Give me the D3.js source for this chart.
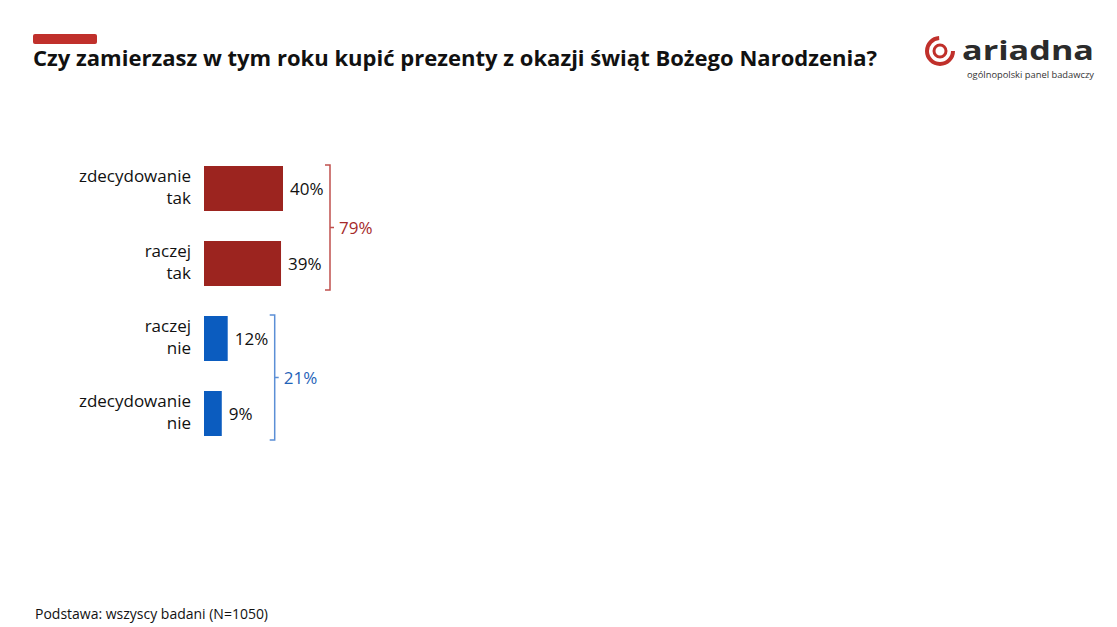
<!DOCTYPE html>
<html><head><meta charset="utf-8">
<script src="https://cdn.jsdelivr.net/npm/d3@7"></script>
<style>body{margin:0;background:#fff}svg{display:block}</style>
</head><body>
<script>
const categories = [["zdecydowanie","tak"],["raczej","tak"],["raczej","nie"],["zdecydowanie","nie"]];
const values = [40, 39, 12, 9];
const groups = ["tak","tak","nie","nie"];
const groupTotals = [{group:"tak", label:"79%", from:0, to:1}, {group:"nie", label:"21%", from:2, to:3}];
const title = "Czy zamierzasz w tym roku kupić prezenty z okazji świąt Bożego Narodzenia?";
const footnote = "Podstawa: wszyscy badani (N=1050)";

const W = 1117, H = 627;
const svg = d3.select("body").append("svg").attr("width", W).attr("height", H);
const font = "'Open Sans', 'DejaVu Sans', sans-serif";

const barColor = {tak:"#9c241f", nie:"#0b5cbf"};
const bracketColor = {tak:"#c0504d", nie:"#5b8fd6"};
const totalColor = {tak:"#a52a2a", nie:"#1f63b8"};

// header
svg.append("rect").attr("x",33).attr("y",34).attr("width",64).attr("height",10).attr("rx",2).attr("fill","#c0302b");
svg.append("text").attr("x",33).attr("y",66).attr("font-family","'Open Sans', sans-serif").attr("font-weight",700)
  .attr("font-size",20.5).attr("fill","#111").attr("textLength",844).attr("lengthAdjust","spacingAndGlyphs").text(title);

// logo
const logo = svg.append("g");
logo.append("circle").attr("cx",940).attr("cy",51).attr("r",13).attr("fill","none").attr("stroke","#c0302b").attr("stroke-width",4)
  .attr("stroke-dasharray","60 22");
logo.append("circle").attr("cx",940).attr("cy",51).attr("r",6).attr("fill","none").attr("stroke","#c0302b").attr("stroke-width",3);
logo.append("text").attr("x",962).attr("y",60).attr("font-family","'Open Sans', sans-serif").attr("font-weight",700)
  .attr("font-size",27).attr("fill","#2b2b2b").attr("textLength",132).attr("lengthAdjust","spacingAndGlyphs").text("ariadna");
logo.append("text").attr("x",967).attr("y",78).attr("font-family","'Open Sans', sans-serif")
  .attr("font-size",9.5).attr("fill","#333").attr("textLength",127).attr("lengthAdjust","spacingAndGlyphs").text("ogólnopolski panel badawczy");

// scales
const x = d3.scaleLinear().domain([0, 40]).range([204, 283]);
const y = d3.scaleBand().domain(d3.range(values.length)).range([151, 451]).paddingInner(0.4).paddingOuter(0.2);

const g = svg.append("g");
g.selectAll("rect.bar").data(values).join("rect").attr("class","bar")
  .attr("x", x(0)).attr("y",(d,i)=>y(i)).attr("width",d=>x(d)-x(0)).attr("height",y.bandwidth())
  .attr("fill",(d,i)=>barColor[groups[i]]);

g.selectAll("text.val").data(values).join("text").attr("class","val")
  .attr("x",d=>x(d)+7).attr("y",(d,i)=>y(i)+y.bandwidth()/2+6)
  .attr("font-family",font).attr("font-size",17).attr("fill","#111").text(d=>d+"%");

const lab = g.selectAll("text.cat").data(categories).join("text").attr("class","cat")
  .attr("text-anchor","end").attr("font-family",font).attr("font-size",17).attr("fill","#111");
lab.each(function(d,i){
  const t = d3.select(this);
  const cy = y(i)+y.bandwidth()/2;
  t.append("tspan").attr("x",191).attr("y",cy-7).text(d[0]);
  t.append("tspan").attr("x",191).attr("y",cy+15).text(d[1]);
});

// brackets
groupTotals.forEach(gt=>{
  const maxV = d3.max(values.slice(gt.from, gt.to+1));
  const bx = x(maxV) + 47;
  const y0 = y(gt.from) - 1, y1 = y(gt.to) + y.bandwidth() + 4;
  const ym = (y0 + y1) / 2;
  const c = bracketColor[gt.group];
  const path = d3.path();
  path.moveTo(bx-5, y0); path.lineTo(bx, y0); path.lineTo(bx, y1); path.lineTo(bx-5, y1);
  path.moveTo(bx, ym); path.lineTo(bx+4, ym);
  svg.append("path").attr("d", path.toString()).attr("fill","none").attr("stroke",c).attr("stroke-width",1.5);
  svg.append("text").attr("x",bx+9).attr("y",ym+6).attr("font-family",font).attr("font-size",17)
    .attr("fill",totalColor[gt.group]).text(gt.label);
});

svg.append("text").attr("x",35).attr("y",619).attr("font-family",font).attr("font-size",14.5).attr("fill","#111")
  .attr("textLength",233).attr("lengthAdjust","spacingAndGlyphs").text(footnote);
</script>
</body></html>
